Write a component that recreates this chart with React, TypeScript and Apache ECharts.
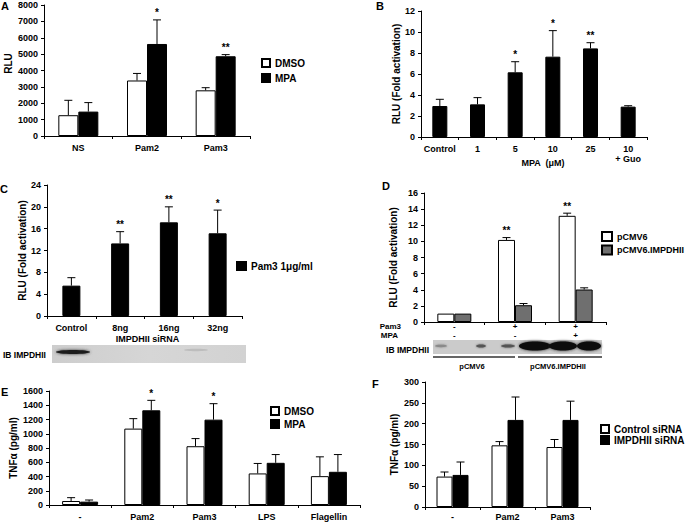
import React, { useEffect, useRef } from "react";
import * as echarts from "echarts";

const FF = '"Liberation Sans", Arial, sans-serif';

// Panel A
const catsA = ["NS", "Pam2", "Pam3"];
const aDmso = [1270, 3390, 2790];
const aDmsoErr = [2180, 3820, 2950];
const aMpa = [1490, 5620, 4870];
const aMpaErr = [2040, 7090, 4970];
const aSig = ["", "*", "**"];
const ticksA = { max: 8000, interval: 1000 };

// Panel B
const catsB = ["Control", "1", "5", "10", "25", "10\n+ Guo"];
const bVals = [2.95, 3.11, 6.16, 7.65, 8.44, 2.89];
const bErr = [3.59, 3.75, 7.17, 10.13, 8.98, 2.98];
const bSig = ["", "", "*", "*", "**", ""];

// Panel C
const catsC = ["Control", "8ng", "16ng", "32ng"];
const cVals = [5.56, 13.3, 17.16, 15.15];
const cErr = [7.02, 15.45, 20.0, 19.4];
const cSig = ["", "**", "**", "*"];

// Panel D
const catsD = ["-\n-", "+\n-", "+\n+"];
const dCmv = [1.04, 10.18, 13.17];
const dCmvErr = [1.04, 10.47, 13.5];
const dImp = [1.04, 2.08, 4.03];
const dImpErr = [1.04, 2.29, 4.24];
const dSig = ["", "**", "**"];

// Panel E
const catsE = ["-", "Pam2", "Pam3", "LPS", "Flagellin"];
const eDmso = [56, 1072, 825, 443, 405];
const eDmsoErr = [103, 1212, 932, 583, 676];
const eMpa = [47, 1329, 1198, 592, 466];
const eMpaErr = [70, 1469, 1422, 708, 708];
const eSig = ["", "*", "*", "", ""];

// Panel F
const catsF = ["-", "Pam2", "Pam3"];
const fCtl = [73, 148, 144];
const fCtlErr = [84, 157, 162];
const fSi = [77, 209, 209];
const fSiErr = [108, 264, 254];

const grids = [
  { left: 44, top: 5, width: 206, height: 131 },
  { left: 421, top: 11, width: 226, height: 126 },
  { left: 47, top: 185, width: 195, height: 131 },
  { left: 424, top: 193, width: 182, height: 129 },
  { left: 49, top: 391, width: 311, height: 114 },
  { left: 425, top: 382, width: 165, height: 126 },
];

function xAx(gridIndex: number, cats: string[], extra: any = {}) {
  const { axisLabel, ...rest } = extra;
  return {
    type: "category",
    gridIndex,
    data: cats,
    nameMoveOverlap: false,
    axisLine: { lineStyle: { color: "#000", width: 1 } },
    axisTick: { show: true, length: 3, lineStyle: { color: "#000" } },
    axisLabel: {
      color: "#000",
      fontSize: 9,
      fontWeight: "bold",
      fontFamily: FF,
      margin: 7,
      interval: 0,
      lineHeight: 10,
      ...(axisLabel || {}),
    },
    ...rest,
  };
}

function yAx(gridIndex: number, max: number, interval: number, name: string, nameGap: number, extra: any = {}) {
  return {
    type: "value",
    gridIndex,
    min: 0,
    max,
    interval,
    name,
    nameLocation: "middle",
    nameGap,
    nameMoveOverlap: false,
    nameTextStyle: { color: "#000", fontSize: 10, fontWeight: "bold", fontFamily: FF },
    splitLine: { show: false },
    axisLine: { show: true, lineStyle: { color: "#000", width: 1 } },
    axisTick: { show: true, length: 3, lineStyle: { color: "#000" } },
    axisLabel: { color: "#000", fontSize: 9, fontWeight: "bold", fontFamily: FF, margin: 6, formatter: (v: number) => String(v) },
    ...extra,
  };
}

function errSeries(idx: number, means: number[], ups: number[], offset: number, sigs: string[]) {
  return {
    type: "custom",
    xAxisIndex: idx,
    yAxisIndex: idx,
    z: 5,
    silent: true,
    data: means.map((m, i) => [i, m, ups[i]]),
    encode: { x: 0, y: [1, 2] },
    renderItem: (params: any, api: any) => {
      const cat = api.value(0);
      const p0 = api.coord([cat, api.value(1)]);
      const p1 = api.coord([cat, api.value(2)]);
      const x = p0[0] + offset;
      const children: any[] = [];
      if (p0[1] - p1[1] > 0.5) {
        children.push({ type: "line", shape: { x1: x, y1: p0[1], x2: x, y2: p1[1] }, style: { stroke: "#000", lineWidth: 1 } });
        children.push({ type: "line", shape: { x1: x - 4, y1: p1[1], x2: x + 4, y2: p1[1] }, style: { stroke: "#000", lineWidth: 1 } });
      }
      const s = sigs[params.dataIndex];
      if (s) {
        children.push({
          type: "text",
          style: { text: s, x, y: p1[1] - 2, align: "center", verticalAlign: "bottom", font: `bold 10px ${FF}`, fill: "#000" },
        });
      }
      return { type: "group", children };
    },
  };
}

function bar(idx: number, name: string, data: number[], w: number, color: string) {
  return {
    type: "bar",
    name,
    xAxisIndex: idx,
    yAxisIndex: idx,
    data,
    barWidth: w,
    barGap: "0%",
    itemStyle: { color, borderColor: "#000", borderWidth: 1 },
  };
}

function legend(names: string[], left: number, top: number, iw: number, ih: number, gap: number, fs = 10) {
  return {
    data: names,
    left,
    top,
    orient: "vertical",
    padding: 0,
    itemWidth: iw,
    itemHeight: ih,
    itemGap: gap,
    icon: "rect",
    selectedMode: false,
    textStyle: { color: "#000", fontSize: fs, fontWeight: "bold", fontFamily: FF, lineHeight: 10 },
  };
}

function letter(t: string, x: number, y: number) {
  return { type: "text", x, y, style: { text: t, font: `bold 11px ${FF}`, fill: "#000", verticalAlign: "top" } };
}

function txt(t: string, x: number, y: number, align = "left", size = 9) {
  return { type: "text", x, y, style: { text: t, font: `bold ${size}px ${FF}`, fill: "#000", align, verticalAlign: "middle" } };
}

export default function App() {
  const ref = useRef<HTMLDivElement>(null);
  useEffect(() => {
    if (!ref.current) return;
    const chart = echarts.init(ref.current, undefined, { renderer: "svg" });
    const nameStyle = (pad: number[]) => ({ color: "#000", fontSize: 9, fontWeight: "bold", fontFamily: FF, padding: pad });
    const option: any = {
      animation: false,
      backgroundColor: "#fff",
      grid: grids,
      xAxis: [
        xAx(0, catsA),
        xAx(1, catsB, { name: "MPA  (μM)", nameLocation: "middle", nameGap: 21, nameTextStyle: nameStyle([0, 0, 0, 18]) }),
        xAx(2, catsC, { name: "IMPDHII siRNA", nameLocation: "middle", nameGap: 18, nameTextStyle: nameStyle([0, 0, 0, 6]) }),
        xAx(3, catsD, { axisLabel: { margin: 0, lineHeight: 9, fontSize: 8 } }),
        xAx(4, catsE),
        xAx(5, catsF, { axisLabel: { margin: 5 } }),
      ],
      yAxis: [
        yAx(0, ticksA.max, ticksA.interval, "RLU", 31, { nameTextStyle: { color: "#000", fontSize: 10, fontWeight: "bold", fontFamily: FF, padding: [0, 0, 0, 14] } }),
        yAx(1, 12, 2, "RLU (Fold activation)", 20),
        yAx(2, 24, 4, "RLU (Fold activation)", 20),
        yAx(3, 16, 2, "RLU (Fold activation)", 26),
        yAx(4, 1600, 200, "TNFα (pg/ml)", 31),
        yAx(5, 300, 50, "TNFα (pg/ml)", 26),
      ],
      legend: [
        legend(["DMSO", "MPA"], 261, 58, 8, 8, 5),
        legend(["Pam3 1μg/ml"], 236, 261, 9, 8, 0),
        legend(["pCMV6", "pCMV6.IMPDHII"], 601, 231, 10, 9, 2.5, 9),
        legend(["Control siRNA", "IMPDHII siRNA"], 600, 424, 8, 8, 1),
        legend(["DMSO", "MPA"], 270, 406, 8, 8, 3),
      ],
      series: [
        bar(0, "DMSO", aDmso, 20, "#fff"),
        bar(0, "MPA", aMpa, 20, "#000"),
        errSeries(0, aDmso, aDmsoErr, -10, ["", "", ""]),
        errSeries(0, aMpa, aMpaErr, 10, aSig),

        bar(1, "B", bVals, 15, "#000"),
        errSeries(1, bVals, bErr, 0, bSig),

        bar(2, "Pam3 1μg/ml", cVals, 18, "#000"),
        errSeries(2, cVals, cErr, 0, cSig),

        bar(3, "pCMV6", dCmv, 17, "#fff"),
        bar(3, "pCMV6.IMPDHII", dImp, 17, "#6f6f6f"),
        errSeries(3, dCmv, dCmvErr, -8.5, dSig),
        errSeries(3, dImp, dImpErr, 8.5, ["", "", ""]),

        bar(4, "DMSO", eDmso, 18, "#fff"),
        bar(4, "MPA", eMpa, 18, "#000"),
        errSeries(4, eDmso, eDmsoErr, -9, ["", "", "", "", ""]),
        errSeries(4, eMpa, eMpaErr, 9, eSig),

        bar(5, "Control siRNA", fCtl, 16, "#fff"),
        bar(5, "IMPDHII siRNA", fSi, 16, "#000"),
        errSeries(5, fCtl, fCtlErr, -8, ["", "", ""]),
        errSeries(5, fSi, fSiErr, 8, ["", "", ""]),
      ],
      graphic: [
        letter("A", 1, 0),
        letter("B", 376, 0),
        letter("C", 0, 183),
        letter("D", 382, 180),
        letter("E", 1, 386),
        letter("F", 372, 378),
        // Blot C
        {
          type: "rect",
          shape: { x: 52, y: 345, width: 194, height: 18 },
          style: {
            fill: new echarts.graphic.LinearGradient(0, 0, 1, 0, [
              { offset: 0, color: "#cdcdcd" },
              { offset: 0.5, color: "#d6d6d6" },
              { offset: 1, color: "#d2d2d2" },
            ]),
          },
        },
        { type: "ellipse", shape: { cx: 73, cy: 352, rx: 17, ry: 2 }, style: { fill: "#1a1a1a", shadowBlur: 3, shadowColor: "#333" } },
        { type: "ellipse", shape: { cx: 196, cy: 350, rx: 12, ry: 1.2 }, style: { fill: "#bdbdbd" } },
        txt("IB IMPDHII", 3, 355, "left", 8.5),
        // D rows
        txt("Pam3", 401, 326.5, "right", 8),
        txt("MPA", 398, 335.5, "right", 8),
        // Blot D
        { type: "rect", shape: { x: 433, y: 340, width: 169, height: 14 }, style: { fill: "#cbcbcb" } },
        { type: "ellipse", shape: { cx: 441, cy: 346, rx: 6, ry: 1.2 }, style: { fill: "#8a8a8a", shadowBlur: 2, shadowColor: "#888" } },
        { type: "ellipse", shape: { cx: 481, cy: 346, rx: 5, ry: 1.5 }, style: { fill: "#555", shadowBlur: 2, shadowColor: "#666" } },
        { type: "ellipse", shape: { cx: 508, cy: 346, rx: 7, ry: 1.5 }, style: { fill: "#555", shadowBlur: 2, shadowColor: "#666" } },
        { type: "ellipse", shape: { cx: 535, cy: 346, rx: 16, ry: 4.5 }, style: { fill: "#0d0d0d", shadowBlur: 3, shadowColor: "#222" } },
        { type: "ellipse", shape: { cx: 563, cy: 346, rx: 14, ry: 4.5 }, style: { fill: "#0d0d0d", shadowBlur: 3, shadowColor: "#222" } },
        { type: "ellipse", shape: { cx: 589, cy: 346, rx: 12, ry: 4.5 }, style: { fill: "#0d0d0d", shadowBlur: 3, shadowColor: "#222" } },
        txt("IB IMPDHII", 429, 350, "right", 8.5),
        { type: "line", shape: { x1: 433, y1: 357, x2: 515, y2: 357 }, style: { stroke: "#333", lineWidth: 1.5 } },
        { type: "line", shape: { x1: 518, y1: 357, x2: 602, y2: 357 }, style: { stroke: "#333", lineWidth: 1.5 } },
        txt("pCMV6", 472, 366, "center", 7.5),
        txt("pCMV6.IMPDHII", 558, 366, "center", 7.5),
      ],
    };
    chart.setOption(option);
    return () => chart.dispose();
  }, []);
  return (
    <div
      ref={ref}
      style={{ position: "fixed", left: 0, top: 0, width: 685, height: 522, background: "#fff" }}
    />
  );
}
